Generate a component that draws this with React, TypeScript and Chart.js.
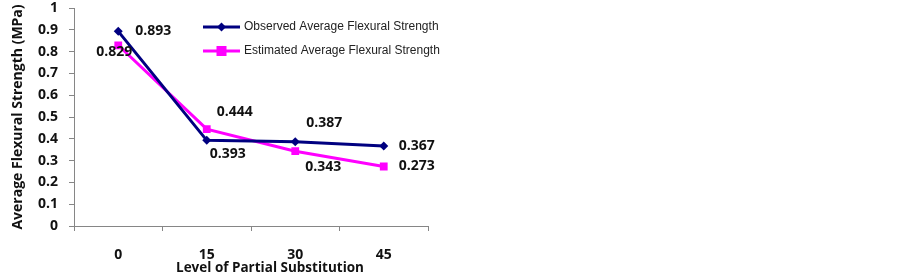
import React, { useEffect, useRef } from "react";
import { Chart, registerables } from "chart.js";

Chart.register(...registerables);

const categories = ["0", "15", "30", "45"];
const observed = [0.893, 0.393, 0.387, 0.367];
const estimated = [0.829, 0.444, 0.343, 0.273];
const seriesNames = ["Observed Average Flexural Strength", "Estimated Average Flexural Strength"];
const xTitle = "Level of Partial Substitution";
const yTitle = "Average Flexural Strength (MPa)";

// label offsets (styling) per dataset/point: [dx, dy]
const labelOffsets = [
  [[17, 0], [3, 14], [11, -19], [15, 0]],
  [[-22, 7], [10, -17], [10, 16], [15, 0]],
];

const FONT = "'Open Sans', 'Noto Sans', sans-serif";

const labelPlugin = {
  id: "customLabels",
  afterDatasetsDraw(chart: any) {
    const ctx = chart.ctx;
    ctx.save();
    ctx.font = `bold 14px ${FONT}`;
    ctx.fillStyle = "#111";
    ctx.textAlign = "left";
    ctx.textBaseline = "middle";
    chart.data.datasets.forEach((ds: any, di: number) => {
      const meta = chart.getDatasetMeta(di);
      meta.data.forEach((pt: any, i: number) => {
        const [dx, dy] = labelOffsets[di][i];
        ctx.fillText(ds.data[i].toFixed(3), pt.x + dx, pt.y + dy);
      });
    });
    // x axis title (offset to the right as in the reference)
    ctx.font = `bold 13.5px ${FONT}`;
    ctx.textAlign = "center";
    ctx.fillText(xTitle, chart.chartArea.left + (chart.chartArea.right - chart.chartArea.left) / 2 + 19, 268);
    // legend
    const items = [
      { y: 27, color: "#000080", style: "rectRot", r: 4.5 },
      { y: 51, color: "#FF00FF", style: "rect", r: 5 },
    ];
    ctx.font = `12px 'Liberation Sans', Arial, sans-serif`;
    ctx.textAlign = "left";
    items.forEach((it, k) => {
      ctx.strokeStyle = it.color;
      ctx.lineWidth = 3;
      ctx.beginPath();
      ctx.moveTo(203, it.y);
      ctx.lineTo(240, it.y);
      ctx.stroke();
      ctx.fillStyle = it.color;
      if (it.style === "rect") {
        ctx.fillRect(221.5 - it.r, it.y - it.r, it.r * 2, it.r * 2);
      } else {
        ctx.beginPath();
        ctx.moveTo(221.5, it.y - it.r);
        ctx.lineTo(221.5 + it.r, it.y);
        ctx.lineTo(221.5, it.y + it.r);
        ctx.lineTo(221.5 - it.r, it.y);
        ctx.closePath();
        ctx.fill();
      }
      ctx.fillStyle = "#222";
      ctx.textBaseline = "middle";
      ctx.fillText(seriesNames[k], 244, it.y);
    });
    ctx.restore();
  },
};

export default function App() {
  const ref = useRef<HTMLCanvasElement>(null);
  useEffect(() => {
    const chart = new Chart(ref.current!, {
      type: "line",
      data: {
        labels: categories,
        datasets: [
          {
            label: seriesNames[0],
            data: observed,
            borderColor: "#000080",
            backgroundColor: "#000080",
            borderWidth: 3,
            pointStyle: "rectRot",
            pointRadius: 4.5,
            pointBorderWidth: 0,
            tension: 0,
          },
          {
            label: seriesNames[1],
            data: estimated,
            borderColor: "#FF00FF",
            backgroundColor: "#FF00FF",
            borderWidth: 3,
            pointStyle: "rect",
            pointRadius: 5.5,
            pointBorderWidth: 0,
            tension: 0,
          },
        ],
      },
      options: {
        animation: false,
        responsive: false,
        layout: { padding: { left: 0, right: 475, top: 0, bottom: 0 } },
        plugins: { legend: { display: false }, tooltip: { enabled: false } },
        scales: {
          x: {
            offset: true,
            grid: { offset: true, drawOnChartArea: false, tickLength: 5, color: "#868686" },
            border: { color: "#868686", width: 1 },
            ticks: { font: { family: FONT, size: 14, weight: "bold" }, color: "#111", padding: 16 },
            title: { display: false },
            afterFit(scale: any) { scale.height = 54; },
          },
          y: {
            min: 0,
            max: 1,
            ticks: {
              stepSize: 0.1,
              font: { family: FONT, size: 14, weight: "bold" },
              color: "#111",
              padding: 11,
              callback: (v: any) => String(Math.round(Number(v) * 10) / 10),
            },
            grid: { drawOnChartArea: false, tickLength: 5, color: "#868686" },
            border: { color: "#868686", width: 1 },
            title: {
              display: true,
              text: yTitle,
              font: { family: FONT, size: 14, weight: "bold" },
              color: "#111",
              padding: { top: 10, bottom: 0 },
            },
            afterFit(scale: any) {
              scale.width = 74;
              scale.paddingTop = 8;
              scale.paddingBottom = 0;
            },
          },
        },
      },
      plugins: [labelPlugin],
    });
    return () => chart.destroy();
  }, []);
  return (
    <div style={{ position: "absolute", left: 0, top: 0, width: 903, height: 280, background: "#fff" }}>
      <canvas ref={ref} width={903} height={280} style={{ width: 903, height: 280 }} />
    </div>
  );
}
